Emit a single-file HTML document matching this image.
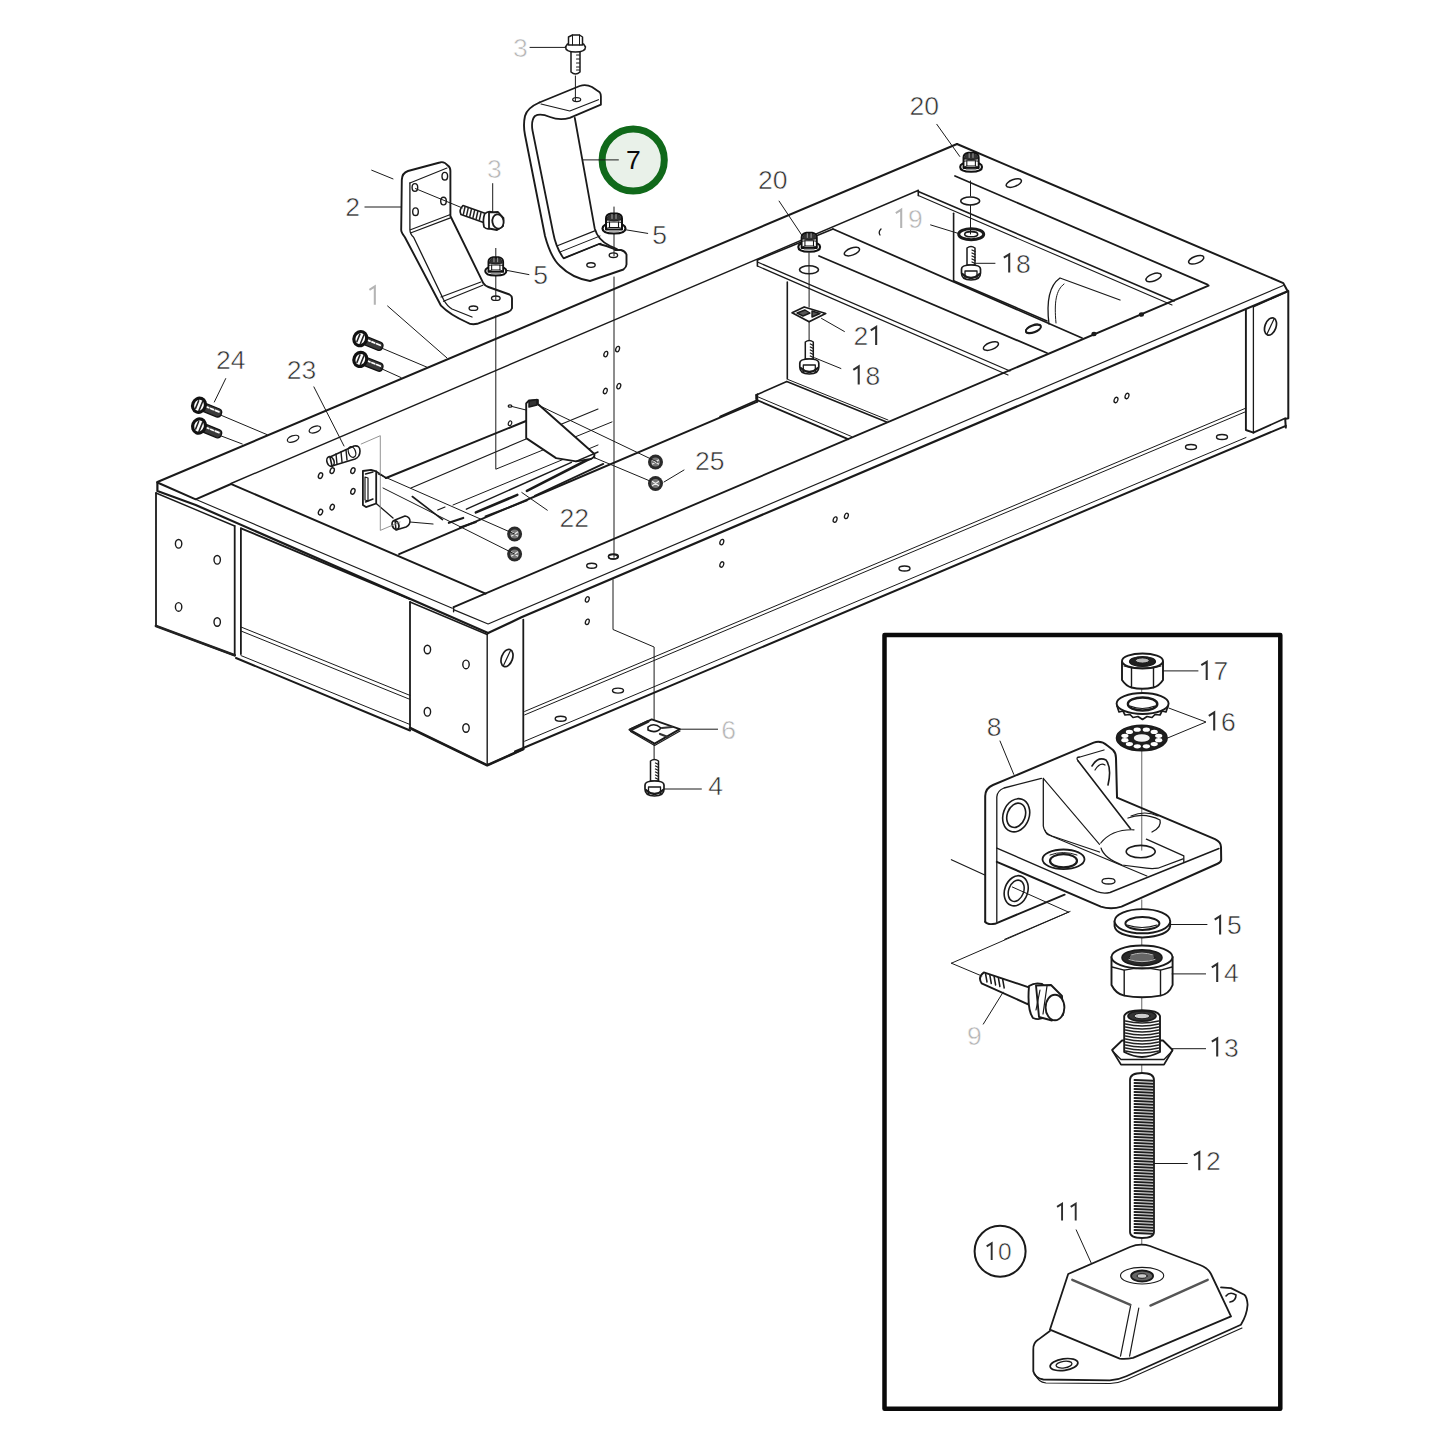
<!DOCTYPE html>
<html><head><meta charset="utf-8">
<style>
html,body{margin:0;padding:0;background:#fff;}
body{width:1445px;height:1445px;overflow:hidden;position:relative;}
svg{position:absolute;left:0;top:0;}
text{font-family:"Liberation Sans",sans-serif;}
</style></head><body>
<svg width="1445" height="1445" viewBox="0 0 1445 1445" stroke-linejoin="round" stroke-linecap="round">
<path d="M157.4,482.0 L957.0,144.0" stroke="#1a1a1a" stroke-width="2.0" fill="none" />
<path d="M231.0,483.5 L918.0,190.5" stroke="#1a1a1a" stroke-width="1.4" fill="none" />
<path d="M157.4,482.5 L157.4,491.0 L195.7,505.0 L488.1,633.1" stroke="#1a1a1a" stroke-width="2.2" fill="none" />
<path d="M157.4,482.5 L195.7,499.3 L231.0,484.0" stroke="#1a1a1a" stroke-width="2.0" fill="none" />
<path d="M195.5,499.3 L452.3,608.2" stroke="#1a1a1a" stroke-width="1.1" fill="none" />
<path d="M156.0,493.0 L156.0,626.0 L234.7,655.3 L234.7,526.0" stroke="#1a1a1a" stroke-width="1.8" fill="none" />
<path d="M156.0,493.0 L234.7,526.0" stroke="#1a1a1a" stroke-width="1.4" fill="none" />
<path d="M240.9,528.5 L240.9,654.0" stroke="#1a1a1a" stroke-width="1.8" fill="none" />
<ellipse cx="178.6" cy="543.8" rx="3.2" ry="4.3" transform="rotate(0 178.6 543.8)" stroke="#1a1a1a" stroke-width="1.4" fill="none"/>
<ellipse cx="217.2" cy="559.8" rx="3.2" ry="4.3" transform="rotate(0 217.2 559.8)" stroke="#1a1a1a" stroke-width="1.4" fill="none"/>
<ellipse cx="178.6" cy="606.9" rx="3.2" ry="4.3" transform="rotate(0 178.6 606.9)" stroke="#1a1a1a" stroke-width="1.4" fill="none"/>
<ellipse cx="217.2" cy="622" rx="3.2" ry="4.3" transform="rotate(0 217.2 622)" stroke="#1a1a1a" stroke-width="1.4" fill="none"/>
<path d="M241.0,528.3 L410.0,599.1" stroke="#1a1a1a" stroke-width="1.9" fill="none" />
<path d="M236.0,658.0 L410.0,730.5" stroke="#1a1a1a" stroke-width="2.0" fill="none" />
<path d="M241.0,627.0 L410.0,695.4" stroke="#1a1a1a" stroke-width="1.0" fill="none" />
<path d="M241.0,631.0 L410.0,699.4" stroke="#1a1a1a" stroke-width="1.0" fill="none" />
<path d="M241.0,655.6 L410.0,724.5" stroke="#1a1a1a" stroke-width="1.0" fill="none" />
<path d="M156.0,626.0 L234.7,655.3" stroke="#222" stroke-width="2.8" fill="none" />
<path d="M410.0,728.0 L487.2,765.3 L523.3,749.1" stroke="#222" stroke-width="2.6" fill="none" />
<path d="M410.0,602.0 L410.0,728.0 L487.2,765.3 L523.3,749.1 L523.3,619.6" stroke="#1a1a1a" stroke-width="1.8" fill="none" />
<path d="M410.0,602.0 L487.2,634.5" stroke="#1a1a1a" stroke-width="1.4" fill="none" />
<path d="M487.2,634.5 L487.2,765.0" stroke="#1a1a1a" stroke-width="1.4" fill="none" />
<ellipse cx="427.4" cy="649.5" rx="3.2" ry="4.3" transform="rotate(0 427.4 649.5)" stroke="#1a1a1a" stroke-width="1.4" fill="none"/>
<ellipse cx="466" cy="664.4" rx="3.2" ry="4.3" transform="rotate(0 466 664.4)" stroke="#1a1a1a" stroke-width="1.4" fill="none"/>
<ellipse cx="427.4" cy="711.8" rx="3.2" ry="4.3" transform="rotate(0 427.4 711.8)" stroke="#1a1a1a" stroke-width="1.4" fill="none"/>
<ellipse cx="466" cy="728" rx="3.2" ry="4.3" transform="rotate(0 466 728)" stroke="#1a1a1a" stroke-width="1.4" fill="none"/>
<ellipse cx="507" cy="658" rx="5.5" ry="9" transform="rotate(20 507 658)" stroke="#1a1a1a" stroke-width="1.7" fill="none"/>
<path d="M503.5,665.5 L510.5,650.5" stroke="#1a1a1a" stroke-width="1.2" fill="none" />
<path d="M488.1,633.1 L521.4,617.3 L1287.0,291.5" stroke="#1a1a1a" stroke-width="2.2" fill="none" />
<path d="M454.1,609.9 L488.1,624.0 L1283.3,285.5" stroke="#1a1a1a" stroke-width="1.2" fill="none" />
<path d="M453.6,607.1 L1208.6,285.6" stroke="#1a1a1a" stroke-width="1.9" fill="none" />
<path d="M515.0,751.5 L1285.8,425.8" stroke="#1a1a1a" stroke-width="2.0" fill="none" />
<path d="M524.7,741.2 L1246.0,437.5" stroke="#1a1a1a" stroke-width="1.0" fill="none" />
<path d="M524.7,711.4 L1245.9,408.1" stroke="#1a1a1a" stroke-width="1.0" fill="none" />
<path d="M524.7,714.9 L1245.9,411.6" stroke="#1a1a1a" stroke-width="1.0" fill="none" />
<path d="M957.0,144.0 L1283.3,283.1 L1287.0,290.0 L1288.3,291.0 L1288.3,418.3 L1285.2,419.0 L1285.8,427.6" stroke="#1a1a1a" stroke-width="2.0" fill="none" />
<path d="M1253.4,432.6 L1285.2,418.3" stroke="#1a1a1a" stroke-width="1.8" fill="none" />
<path d="M1245.9,309.9 L1245.9,430.0 L1253.4,432.6" stroke="#1a1a1a" stroke-width="1.9" fill="none" />
<path d="M1253.4,307.0 L1253.4,432.6" stroke="#1a1a1a" stroke-width="1.3" fill="none" />
<path d="M1253.4,307.0 L1287.0,292.0" stroke="#1a1a1a" stroke-width="1.2" fill="none" />
<ellipse cx="1270.5" cy="326.5" rx="5.5" ry="9" transform="rotate(20 1270.5 326.5)" stroke="#1a1a1a" stroke-width="1.7" fill="none"/>
<path d="M1267.0,334.0 L1274.0,319.0" stroke="#1a1a1a" stroke-width="1.2" fill="none" />
<ellipse cx="293.1" cy="438.8" rx="6" ry="3" transform="rotate(-20 293.1 438.8)" stroke="#1a1a1a" stroke-width="1.3" fill="none"/>
<ellipse cx="314.9" cy="429.5" rx="6" ry="3" transform="rotate(-20 314.9 429.5)" stroke="#1a1a1a" stroke-width="1.3" fill="none"/>
<path d="M757.4,260.0 L833.0,229.0" stroke="#1a1a1a" stroke-width="1.6" fill="none" />
<path d="M757.4,260.0 L757.4,266.0" stroke="#1a1a1a" stroke-width="1.6" fill="none" />
<path d="M833.0,229.0 L1082.0,338.0" stroke="#1a1a1a" stroke-width="1.8" fill="none" />
<path d="M819.0,256.0 L1047.0,353.0" stroke="#1a1a1a" stroke-width="1.8" fill="none" />
<path d="M757.4,262.0 L1010.0,371.0" stroke="#1a1a1a" stroke-width="1.2" fill="none" />
<path d="M757.4,266.0 L1008.0,375.0" stroke="#1a1a1a" stroke-width="1.2" fill="none" />
<path d="M787.3,282.0 L787.3,379.0" stroke="#1a1a1a" stroke-width="1.6" fill="none" />
<ellipse cx="851.9" cy="251.6" rx="8" ry="3.5" transform="rotate(-20 851.9 251.6)" stroke="#1a1a1a" stroke-width="1.5" fill="none"/>
<ellipse cx="1033.5" cy="328.4" rx="8" ry="3.5" transform="rotate(-20 1033.5 328.4)" stroke="#1a1a1a" stroke-width="1.5" fill="none"/>
<ellipse cx="990.9" cy="346.1" rx="8" ry="3.5" transform="rotate(-20 990.9 346.1)" stroke="#1a1a1a" stroke-width="1.5" fill="none"/>
<path d="M918.3,190.4 L918.3,195.6" stroke="#1a1a1a" stroke-width="1.6" fill="none" />
<path d="M918.3,191.4 L1174.0,301.0" stroke="#1a1a1a" stroke-width="1.6" fill="none" />
<path d="M918.3,195.6 L1172.0,305.0" stroke="#1a1a1a" stroke-width="1.1" fill="none" />
<path d="M955.0,176.0 L1207.6,284.7" stroke="#1a1a1a" stroke-width="1.8" fill="none" />
<path d="M953.6,213.2 L953.6,280.7" stroke="#1a1a1a" stroke-width="1.6" fill="none" />
<path d="M953.6,280.7 L1047.0,321.0" stroke="#1a1a1a" stroke-width="1.6" fill="none" />
<ellipse cx="1013.8" cy="183.1" rx="8" ry="3.5" transform="rotate(-20 1013.8 183.1)" stroke="#1a1a1a" stroke-width="1.5" fill="none"/>
<ellipse cx="1196.2" cy="259.8" rx="8" ry="3.5" transform="rotate(-20 1196.2 259.8)" stroke="#1a1a1a" stroke-width="1.5" fill="none"/>
<ellipse cx="1153.6" cy="277.4" rx="8" ry="3.5" transform="rotate(-20 1153.6 277.4)" stroke="#1a1a1a" stroke-width="1.5" fill="none"/>
<ellipse cx="1033.2" cy="329.3" rx="8" ry="3.5" transform="rotate(-20 1033.2 329.3)" stroke="#1a1a1a" stroke-width="1.5" fill="none"/>
<path d="M1049,324 C1046,300 1050,285 1060,278 L1120,300" stroke="#1a1a1a" stroke-width="1.3" fill="none" />
<path d="M1056,323 C1054,302 1056,290 1064,284" stroke="#1a1a1a" stroke-width="1.0" fill="none" />
<path d="M756.2,395.0 L756.2,399.0 L758.0,400.5 L848.0,439.2" stroke="#1a1a1a" stroke-width="1.9" fill="none" />
<path d="M756.2,395.0 L786.8,381.6" stroke="#1a1a1a" stroke-width="1.6" fill="none" />
<path d="M758.0,396.9 L851.5,436.5" stroke="#1a1a1a" stroke-width="1.0" fill="none" />
<path d="M786.8,381.6 L886.6,422.1" stroke="#1a1a1a" stroke-width="1.6" fill="none" />
<path d="M788.0,379.5 L888.0,420.0" stroke="#1a1a1a" stroke-width="1.0" fill="none" />
<path d="M720.0,416.5 L757.4,400.0" stroke="#1a1a1a" stroke-width="1.6" fill="none" />
<path d="M539.4,102.5 L579.7,86 Q586,84 592,87 L599.7,92.3 Q601,94 600.9,97 L600.9,104.7 L569.8,117.8 Q560,121 550,117 Q540,113 535,116 Q531,120 532.4,130 L553,232 Q556,248 563.6,258.3 L599,244 Q608,246 614,249" stroke="#1a1a1a" stroke-width="1.8" fill="none" />
<path d="M539.4,102.5 Q527,108 525,116 Q523,125 525,135 L545,236 Q551,258 560,266 Q572,278 590,281 L623.4,269.5 Q626.5,267 626.5,264.5 L626.5,254.5 Q625,251 621,250 L615,250" stroke="#1a1a1a" stroke-width="1.9" fill="none" />
<path d="M541,104 L569.8,111 L598.4,99.7" stroke="#1a1a1a" stroke-width="1.2" fill="none" />
<path d="M574.8,118 L594.7,228.4 Q598,240 609.7,245.8 L617,249" stroke="#1a1a1a" stroke-width="1.8" fill="none" />
<path d="M557.4,245.8 L594.7,230.9" stroke="#1a1a1a" stroke-width="1.2" fill="none" />
<path d="M560,252 L600,236" stroke="#1a1a1a" stroke-width="1.0" fill="none" />
<path d="M563.6,258.3 L601,243.3" stroke="#1a1a1a" stroke-width="1.2" fill="none" />
<ellipse cx="591" cy="265.1" rx="4.2" ry="2.3" transform="rotate(0 591 265.1)" stroke="#1a1a1a" stroke-width="1.4" fill="none"/>
<ellipse cx="613.4" cy="255.2" rx="4.2" ry="2.3" transform="rotate(0 613.4 255.2)" stroke="#1a1a1a" stroke-width="1.4" fill="none"/>
<ellipse cx="576.7" cy="99.6" rx="4" ry="2" transform="rotate(0 576.7 99.6)" stroke="#1a1a1a" stroke-width="1.2" fill="none"/>
<path d="M575.4,76.0 L575.4,101.0" stroke="#1a1a1a" stroke-width="1.0" fill="none" />
<path d="M614.0,207.0 L614.0,214.0" stroke="#1a1a1a" stroke-width="1.0" fill="none" />
<path d="M614.0,232.0 L614.0,255.8" stroke="#1a1a1a" stroke-width="1.0" fill="none" />
<path d="M614.0,277.0 L614.0,557.3" stroke="#1a1a1a" stroke-width="1.0" fill="none" />
<path d="M613.0,579.7 L613.0,629.5 L654.1,647.0 L654.1,724.2" stroke="#1a1a1a" stroke-width="1.0" fill="none" />
<path d="M654.1,740.0 L654.1,760.0" stroke="#1a1a1a" stroke-width="1.0" fill="none" />
<ellipse cx="613" cy="556.8" rx="4.5" ry="2.2" transform="rotate(0 613 556.8)" stroke="#1a1a1a" stroke-width="1.3" fill="none"/>
<path d="M401.8,179.9 Q402,173 408,171 L439.8,162.5 Q444,161 447.9,165.6 Q450.4,167 450.4,171 L450.4,216 L483.4,283.3 Q485,286 488.4,287 L509.5,294.5 Q512,296 512,298.2 L512,308.2 Q511,311 508,312 L477.2,323.8 Q471,325 467.2,322.5 Q450,315 441,305.7 L404.9,237.2 Q401,232 401.2,229.7 Z" stroke="#1a1a1a" stroke-width="1.9" fill="none" />
<path d="M409.9,183 L409.9,229.7 Q410,234 413.6,237.2 L443.5,299.5 Q447,306 452,309 L472,317" stroke="#1a1a1a" stroke-width="1.3" fill="none" />
<path d="M409.9,183 L447,168" stroke="#1a1a1a" stroke-width="1.1" fill="none" />
<path d="M410.5,229.7 L449.8,214.8" stroke="#1a1a1a" stroke-width="1.2" fill="none" />
<path d="M411.1,232.8 L450.4,217.9" stroke="#1a1a1a" stroke-width="1.2" fill="none" />
<path d="M441,297 L480.9,282" stroke="#1a1a1a" stroke-width="1.2" fill="none" />
<path d="M443.5,301.3 L482.8,285.2" stroke="#1a1a1a" stroke-width="1.2" fill="none" />
<ellipse cx="444.8" cy="176.2" rx="2.8" ry="3.8" transform="rotate(0 444.8 176.2)" stroke="#1a1a1a" stroke-width="1.4" fill="none"/>
<ellipse cx="414.9" cy="187.4" rx="2.8" ry="3.8" transform="rotate(0 414.9 187.4)" stroke="#1a1a1a" stroke-width="1.4" fill="none"/>
<ellipse cx="443.5" cy="201.1" rx="2.8" ry="3.8" transform="rotate(0 443.5 201.1)" stroke="#1a1a1a" stroke-width="1.4" fill="none"/>
<ellipse cx="415.5" cy="211.7" rx="2.8" ry="3.8" transform="rotate(0 415.5 211.7)" stroke="#1a1a1a" stroke-width="1.4" fill="none"/>
<ellipse cx="473.4" cy="308.2" rx="4.3" ry="2.2" transform="rotate(0 473.4 308.2)" stroke="#1a1a1a" stroke-width="1.4" fill="none"/>
<ellipse cx="495.8" cy="298.2" rx="4.3" ry="2.2" transform="rotate(0 495.8 298.2)" stroke="#1a1a1a" stroke-width="1.4" fill="none"/>
<path d="M463,205.5 L487,214 L485,223 L461,214.5 Q458.5,210 463,205.5 Z" stroke="#1a1a1a" stroke-width="1.7" fill="#fff" />
<path d="M465.0,207.0 L463.4,214.2" stroke="#222" stroke-width="1.5"/>
<path d="M468.2,208.1 L466.6,215.3" stroke="#222" stroke-width="1.5"/>
<path d="M471.4,209.3 L469.8,216.5" stroke="#222" stroke-width="1.5"/>
<path d="M474.6,210.4 L473.0,217.6" stroke="#222" stroke-width="1.5"/>
<path d="M477.8,211.5 L476.2,218.7" stroke="#222" stroke-width="1.5"/>
<path d="M481.0,212.7 L479.4,219.8" stroke="#222" stroke-width="1.5"/>
<path d="M484.6,214 Q488,210.5 492,212 L491,228 Q487,230 484,227 Q482.5,220 484.6,214 Z" stroke="#1a1a1a" stroke-width="1.7" fill="#fff" />
<path d="M489,212.3 L498,212 L503.5,218 L503,226 L497,230 L489,228.5 Z" stroke="#1a1a1a" stroke-width="1.8" fill="#fff" />
<ellipse cx="498" cy="221.5" rx="5.6" ry="7.2" transform="rotate(-10 498 221.5)" stroke="#1a1a1a" stroke-width="1.8" fill="#fff"/>
<path d="M415.5,188.6 L462.2,207.9" stroke="#1a1a1a" stroke-width="1.0" fill="none" />
<path d="M495.8,248.4 L495.8,258.0" stroke="#1a1a1a" stroke-width="1.0" fill="none" />
<path d="M495.8,276.0 L495.8,299.5" stroke="#1a1a1a" stroke-width="1.0" fill="none" />
<path d="M495.8,315.7 L495.8,469.2 L612.0,421.9" stroke="#1a1a1a" stroke-width="1.0" fill="none" />
<g transform="translate(809.2,247) scale(0.95)" stroke="#111"><path d="M-11.5,0 Q-11.5,-5 0,-5 Q11.5,-5 11.5,0 Q11.5,5 0,5 Q-11.5,5 -11.5,0 Z" fill="#fff" stroke-width="2.2"/><path d="M-8,1 L-8,-10 Q-8,-14 -3,-15 L3,-15 Q8,-14 8,-10 L8,1 Z" fill="#fff" stroke-width="2.0"/><path d="M-7,-8.5 Q-7,-13.5 -2.5,-14 L2.5,-14 Q7,-13.5 7,-8.5 Q0,-6.5 -7,-8.5 Z" fill="#333" stroke-width="0.8"/><path d="M-2,-14 L-2,-10 M2,-14 L2,-10" stroke="#aaa" stroke-width="1.0"/><path d="M-4.5,-6.5 L4.5,-6.5 L4.5,-1 L-4.5,-1 Z" fill="#fff" stroke-width="1.1"/><path d="M-8,-6 L-4.5,-6.5 M8,-6 L4.5,-6.5 M-8,0 L-4.5,-1 M8,0 L4.5,-1" stroke-width="1.0"/><path d="M-5,2.6 L5,2.6" stroke="#999" stroke-width="1.4"/></g>
<g transform="translate(971.1,167) scale(0.95)" stroke="#111"><path d="M-11.5,0 Q-11.5,-5 0,-5 Q11.5,-5 11.5,0 Q11.5,5 0,5 Q-11.5,5 -11.5,0 Z" fill="#fff" stroke-width="2.2"/><path d="M-8,1 L-8,-10 Q-8,-14 -3,-15 L3,-15 Q8,-14 8,-10 L8,1 Z" fill="#fff" stroke-width="2.0"/><path d="M-7,-8.5 Q-7,-13.5 -2.5,-14 L2.5,-14 Q7,-13.5 7,-8.5 Q0,-6.5 -7,-8.5 Z" fill="#333" stroke-width="0.8"/><path d="M-2,-14 L-2,-10 M2,-14 L2,-10" stroke="#aaa" stroke-width="1.0"/><path d="M-4.5,-6.5 L4.5,-6.5 L4.5,-1 L-4.5,-1 Z" fill="#fff" stroke-width="1.1"/><path d="M-8,-6 L-4.5,-6.5 M8,-6 L4.5,-6.5 M-8,0 L-4.5,-1 M8,0 L4.5,-1" stroke-width="1.0"/><path d="M-5,2.6 L5,2.6" stroke="#999" stroke-width="1.4"/></g>
<g transform="translate(614,228.5) scale(1.0)" stroke="#111"><path d="M-11.5,0 Q-11.5,-5 0,-5 Q11.5,-5 11.5,0 Q11.5,5 0,5 Q-11.5,5 -11.5,0 Z" fill="#fff" stroke-width="2.2"/><path d="M-8,1 L-8,-10 Q-8,-14 -3,-15 L3,-15 Q8,-14 8,-10 L8,1 Z" fill="#fff" stroke-width="2.0"/><path d="M-7,-8.5 Q-7,-13.5 -2.5,-14 L2.5,-14 Q7,-13.5 7,-8.5 Q0,-6.5 -7,-8.5 Z" fill="#333" stroke-width="0.8"/><path d="M-2,-14 L-2,-10 M2,-14 L2,-10" stroke="#aaa" stroke-width="1.0"/><path d="M-4.5,-6.5 L4.5,-6.5 L4.5,-1 L-4.5,-1 Z" fill="#fff" stroke-width="1.1"/><path d="M-8,-6 L-4.5,-6.5 M8,-6 L4.5,-6.5 M-8,0 L-4.5,-1 M8,0 L4.5,-1" stroke-width="1.0"/><path d="M-5,2.6 L5,2.6" stroke="#999" stroke-width="1.4"/></g>
<g transform="translate(495.8,271) scale(0.92)" stroke="#111"><path d="M-11.5,0 Q-11.5,-5 0,-5 Q11.5,-5 11.5,0 Q11.5,5 0,5 Q-11.5,5 -11.5,0 Z" fill="#fff" stroke-width="2.2"/><path d="M-8,1 L-8,-10 Q-8,-14 -3,-15 L3,-15 Q8,-14 8,-10 L8,1 Z" fill="#fff" stroke-width="2.0"/><path d="M-7,-8.5 Q-7,-13.5 -2.5,-14 L2.5,-14 Q7,-13.5 7,-8.5 Q0,-6.5 -7,-8.5 Z" fill="#333" stroke-width="0.8"/><path d="M-2,-14 L-2,-10 M2,-14 L2,-10" stroke="#aaa" stroke-width="1.0"/><path d="M-4.5,-6.5 L4.5,-6.5 L4.5,-1 L-4.5,-1 Z" fill="#fff" stroke-width="1.1"/><path d="M-8,-6 L-4.5,-6.5 M8,-6 L4.5,-6.5 M-8,0 L-4.5,-1 M8,0 L4.5,-1" stroke-width="1.0"/><path d="M-5,2.6 L5,2.6" stroke="#999" stroke-width="1.4"/></g>
<g transform="translate(655.5,462) scale(1.0)"><circle r="7.5" fill="#2a2a2a"/><circle r="4.6" fill="#777"/><path d="M-3,-2 L3,2 M-3,2 L3,-2" stroke="#eee" stroke-width="1.2"/></g>
<g transform="translate(655.5,483.5) scale(1.0)"><circle r="7.5" fill="#2a2a2a"/><circle r="4.6" fill="#777"/><path d="M-3,-2 L3,2 M-3,2 L3,-2" stroke="#eee" stroke-width="1.2"/></g>
<g transform="translate(514.6,534) scale(1.0)"><circle r="7.5" fill="#2a2a2a"/><circle r="4.6" fill="#777"/><path d="M-3,-2 L3,2 M-3,2 L3,-2" stroke="#eee" stroke-width="1.2"/></g>
<g transform="translate(514.6,554) scale(1.0)"><circle r="7.5" fill="#2a2a2a"/><circle r="4.6" fill="#777"/><path d="M-3,-2 L3,2 M-3,2 L3,-2" stroke="#eee" stroke-width="1.2"/></g>
<g transform="translate(575.5,35) scale(1.0)" stroke="#1a1a1a" fill="#fff" stroke-width="1.5"><path d="M-4.5,16 L-4.5,37 Q0,41 4.5,37 L4.5,16 Z"/><path d="M1,20 L4,20 M1,24 L4,24 M1,28 L4,28 M1,32 L4,32 M1,35 L4,35" stroke-width="1.1"/><path d="M-10,12 Q-10,17 0,17 Q10,17 10,12 L8,9 L-8,9 Z"/><path d="M-7,10 L-7,2 L-3,0 L4,0 L7,2 L7,10 Z"/><path d="M-3,0 L-3,10 M4,0 L4,10" stroke-width="1.0"/></g>
<g transform="translate(809.3,341) scale(1.0)" stroke="#1a1a1a" fill="#fff" stroke-width="1.5"><path d="M-4,18 L-4,1 Q0,-2 4,1 L4,18 Z"/><path d="M1,3 L4,4.5" stroke-width="1.3"/><path d="M1,6 L4,7.5" stroke-width="1.3"/><path d="M1,9 L4,10.5" stroke-width="1.3"/><path d="M1,12 L4,13.5" stroke-width="1.3"/><path d="M1,15 L4,16.5" stroke-width="1.3"/><path d="M-9.5,22 Q-9.5,18 0,18 Q9.5,18 9.5,22 L9.5,26 Q9.5,33 0,33 Q-9.5,33 -9.5,26 Z" stroke-width="1.7"/><path d="M-6,24 L6,24 L6,31 M-6,24 L-6,31" stroke-width="1.3"/><path d="M-8.5,27 Q0,35 8.5,27" stroke-width="2.2" fill="none"/></g>
<g transform="translate(971,247) scale(1.0)" stroke="#1a1a1a" fill="#fff" stroke-width="1.5"><path d="M-4,18 L-4,1 Q0,-2 4,1 L4,18 Z"/><path d="M1,3 L4,4.5" stroke-width="1.3"/><path d="M1,6 L4,7.5" stroke-width="1.3"/><path d="M1,9 L4,10.5" stroke-width="1.3"/><path d="M1,12 L4,13.5" stroke-width="1.3"/><path d="M1,15 L4,16.5" stroke-width="1.3"/><path d="M-9.5,22 Q-9.5,18 0,18 Q9.5,18 9.5,22 L9.5,26 Q9.5,33 0,33 Q-9.5,33 -9.5,26 Z" stroke-width="1.7"/><path d="M-6,24 L6,24 L6,31 M-6,24 L-6,31" stroke-width="1.3"/><path d="M-8.5,27 Q0,35 8.5,27" stroke-width="2.2" fill="none"/></g>
<g transform="translate(654.5,760) scale(1.0)" stroke="#1a1a1a" fill="#fff" stroke-width="1.5"><path d="M-4,21 L-4,1 Q0,-2 4,1 L4,21 Z"/><path d="M1,3 L4,4.5" stroke-width="1.3"/><path d="M1,6 L4,7.5" stroke-width="1.3"/><path d="M1,9 L4,10.5" stroke-width="1.3"/><path d="M1,12 L4,13.5" stroke-width="1.3"/><path d="M1,15 L4,16.5" stroke-width="1.3"/><path d="M1,18 L4,19.5" stroke-width="1.3"/><path d="M-9.5,25 Q-9.5,21 0,21 Q9.5,21 9.5,25 L9.5,29 Q9.5,36 0,36 Q-9.5,36 -9.5,29 Z" stroke-width="1.7"/><path d="M-6,27 L6,27 L6,34 M-6,27 L-6,34" stroke-width="1.3"/><path d="M-8.5,30 Q0,38 8.5,30" stroke-width="2.2" fill="none"/></g>
<g transform="translate(199,405.2) rotate(22) scale(1.0)"><path d="M4,-4.2 L20.5,-4.2 Q24,-4 24,0 Q24,4 20.5,4.2 L4,4.2 Z" fill="#3a3a3a" stroke="#111" stroke-width="1.3"/><path d="M7,-1.3 L10,-1.3 M12,-1.3 L15,-1.3 M17,-1.3 L21,-1.3" stroke="#fff" stroke-width="1.7"/><ellipse rx="6.3" ry="7.2" fill="#fff" stroke="#111" stroke-width="3.2"/><path d="M-2,-4 L-2,4 M2,-5 L2,5" stroke="#222" stroke-width="1.6"/></g>
<g transform="translate(199,426) rotate(22) scale(1.0)"><path d="M4,-4.2 L20.5,-4.2 Q24,-4 24,0 Q24,4 20.5,4.2 L4,4.2 Z" fill="#3a3a3a" stroke="#111" stroke-width="1.3"/><path d="M7,-1.3 L10,-1.3 M12,-1.3 L15,-1.3 M17,-1.3 L21,-1.3" stroke="#fff" stroke-width="1.7"/><ellipse rx="6.3" ry="7.2" fill="#fff" stroke="#111" stroke-width="3.2"/><path d="M-2,-4 L-2,4 M2,-5 L2,5" stroke="#222" stroke-width="1.6"/></g>
<g transform="translate(360.3,338.6) rotate(22) scale(1.0)"><path d="M4,-4.2 L20.5,-4.2 Q24,-4 24,0 Q24,4 20.5,4.2 L4,4.2 Z" fill="#3a3a3a" stroke="#111" stroke-width="1.3"/><path d="M7,-1.3 L10,-1.3 M12,-1.3 L15,-1.3 M17,-1.3 L21,-1.3" stroke="#fff" stroke-width="1.7"/><ellipse rx="6.3" ry="7.2" fill="#fff" stroke="#111" stroke-width="3.2"/><path d="M-2,-4 L-2,4 M2,-5 L2,5" stroke="#222" stroke-width="1.6"/></g>
<g transform="translate(360.3,359.4) rotate(22) scale(1.0)"><path d="M4,-4.2 L20.5,-4.2 Q24,-4 24,0 Q24,4 20.5,4.2 L4,4.2 Z" fill="#3a3a3a" stroke="#111" stroke-width="1.3"/><path d="M7,-1.3 L10,-1.3 M12,-1.3 L15,-1.3 M17,-1.3 L21,-1.3" stroke="#fff" stroke-width="1.7"/><ellipse rx="6.3" ry="7.2" fill="#fff" stroke="#111" stroke-width="3.2"/><path d="M-2,-4 L-2,4 M2,-5 L2,5" stroke="#222" stroke-width="1.6"/></g>
<path d="M220.5,415.0 L267.2,434.7" stroke="#1a1a1a" stroke-width="1.0" fill="none" />
<path d="M220.5,435.7 L242.3,444.0" stroke="#1a1a1a" stroke-width="1.0" fill="none" />
<path d="M380.3,347.5 L427.0,367.2" stroke="#1a1a1a" stroke-width="1.0" fill="none" />
<path d="M380.3,368.2 L401.1,377.6" stroke="#1a1a1a" stroke-width="1.0" fill="none" />
<path d="M792.1,312.8 L804.2,307 L825.7,313.5 L809.1,321.8 Z" stroke="#1a1a1a" stroke-width="1.8" fill="#fff" />
<path d="M797,313 L805,310 L810,313 L803,316 Z M812,311 L820,313.5 L812,317 Z" stroke="#1a1a1a" stroke-width="1.4" fill="#555" />
<path d="M809.1,274.0 L809.1,307.0" stroke="#1a1a1a" stroke-width="1.0" fill="none" />
<path d="M809.1,322.0 L809.1,340.0" stroke="#1a1a1a" stroke-width="1.0" fill="none" />
<path d="M629.4,729.6 L651.7,719.4 L679.8,729.1 L654.6,743.6 Z" stroke="#1a1a1a" stroke-width="1.9" fill="#fff" />
<path d="M630.5,731.5 L654.6,745.5 L680,731" stroke="#1a1a1a" stroke-width="1.2" fill="none" />
<path d="M631,729.6 L648,721.5" stroke="#222" stroke-width="3.0" fill="none" />
<path d="M648,727 Q654,722 661,728 Q656,734 648,730 Z" stroke="#1a1a1a" stroke-width="1.6" fill="#fff" />
<path d="M662,728 L672,727 M660,734 L668,737" stroke="#333" stroke-width="2.2" fill="none" />
<ellipse cx="971.2" cy="234.2" rx="12.5" ry="5.5" transform="rotate(0 971.2 234.2)" stroke="#1a1a1a" stroke-width="3.0" fill="none"/>
<ellipse cx="971.2" cy="234.2" rx="6.5" ry="2.6" transform="rotate(0 971.2 234.2)" stroke="#1a1a1a" stroke-width="1.6" fill="none"/>
<path d="M970.5,181.0 L970.5,196.0" stroke="#1a1a1a" stroke-width="1.0" fill="none" />
<path d="M970.5,205.0 L970.5,234.0" stroke="#1a1a1a" stroke-width="1.0" fill="none" />
<path d="M881,229 Q878,232 880,235" stroke="#1a1a1a" stroke-width="1.3" fill="none" />
<ellipse cx="809" cy="269.8" rx="9.5" ry="4" transform="rotate(0 809 269.8)" stroke="#1a1a1a" stroke-width="1.6" fill="none"/>
<path d="M809.0,253.0 L809.0,273.0" stroke="#1a1a1a" stroke-width="1.0" fill="none" />
<ellipse cx="970.2" cy="201" rx="9.5" ry="4" transform="rotate(0 970.2 201)" stroke="#1a1a1a" stroke-width="1.6" fill="none"/>
<text x="513.1" y="56.6" font-size="26.5" fill="#b4b4b4" stroke="#fff" stroke-width="0.55" paint-order="normal">3</text>
<path d="M530.0,47.4 L566.0,47.4" stroke="#1a1a1a" stroke-width="1.0" fill="none" />
<text x="486.9" y="177.7" font-size="26.5" fill="#b4b4b4" stroke="#fff" stroke-width="0.55" paint-order="normal">3</text>
<path d="M492.7,183.6 L492.7,212.3" stroke="#1a1a1a" stroke-width="1.0" fill="none" />
<text x="345.2" y="215.5" font-size="26.5" fill="#2e2e2e" stroke="#fff" stroke-width="0.55" paint-order="normal">2</text>
<path d="M364.9,207.0 L400.7,207.0" stroke="#1a1a1a" stroke-width="1.0" fill="none" />
<path d="M371.7,170.2 L393.0,178.9" stroke="#1a1a1a" stroke-width="1.0" fill="none" />
<text x="652.2" y="244.4" font-size="26.5" fill="#2e2e2e" stroke="#fff" stroke-width="0.55" paint-order="normal">5</text>
<path d="M624.6,229.6 L647.7,233.4" stroke="#1a1a1a" stroke-width="1.0" fill="none" />
<text x="533.3" y="284.3" font-size="26.5" fill="#2e2e2e" stroke="#fff" stroke-width="0.55" paint-order="normal">5</text>
<path d="M505.8,270.2 L528.9,274.6" stroke="#1a1a1a" stroke-width="1.0" fill="none" />
<path d="M369.41,289.86 L374.81,286.47 L374.81,304.70" stroke="#b4b4b4" stroke-width="2.07" fill="none" stroke-linejoin="miter" stroke-linecap="butt"/>
<path d="M387.6,306.0 L446.8,357.8" stroke="#1a1a1a" stroke-width="1.0" fill="none" />
<text x="216.1" y="369.1" font-size="26.5" fill="#2e2e2e" stroke="#fff" stroke-width="0.55" paint-order="normal">2</text>
<text x="230.8" y="369.1" font-size="26.5" fill="#2e2e2e" stroke="#fff" stroke-width="0.55" paint-order="normal">4</text>
<path d="M225.7,378.6 L214.3,402.0" stroke="#1a1a1a" stroke-width="1.0" fill="none" />
<text x="286.7" y="379.4" font-size="26.5" fill="#2e2e2e" stroke="#fff" stroke-width="0.55" paint-order="normal">2</text>
<text x="301.4" y="379.4" font-size="26.5" fill="#2e2e2e" stroke="#fff" stroke-width="0.55" paint-order="normal">3</text>
<path d="M313.9,386.9 L344.0,446.0" stroke="#1a1a1a" stroke-width="1.0" fill="none" />
<text x="758.0" y="189.4" font-size="26.5" fill="#2e2e2e" stroke="#fff" stroke-width="0.55" paint-order="normal">2</text>
<text x="772.7" y="189.4" font-size="26.5" fill="#2e2e2e" stroke="#fff" stroke-width="0.55" paint-order="normal">0</text>
<path d="M779.1,201.1 L801.9,235.3" stroke="#1a1a1a" stroke-width="1.0" fill="none" />
<text x="909.6" y="114.7" font-size="26.5" fill="#2e2e2e" stroke="#fff" stroke-width="0.55" paint-order="normal">2</text>
<text x="924.3" y="114.7" font-size="26.5" fill="#2e2e2e" stroke="#fff" stroke-width="0.55" paint-order="normal">0</text>
<path d="M936.8,124.3 L959.7,156.4" stroke="#1a1a1a" stroke-width="1.0" fill="none" />
<path d="M895.81,213.06 L901.21,209.67 L901.21,227.90" stroke="#b4b4b4" stroke-width="2.07" fill="none" stroke-linejoin="miter" stroke-linecap="butt"/>
<text x="908.0" y="227.9" font-size="26.5" fill="#b4b4b4" stroke="#fff" stroke-width="0.55" paint-order="normal">9</text>
<path d="M930.6,224.9 L957.6,233.2" stroke="#1a1a1a" stroke-width="1.0" fill="none" />
<path d="M1003.81,257.66 L1009.21,254.27 L1009.21,272.50" stroke="#2e2e2e" stroke-width="2.07" fill="none" stroke-linejoin="miter" stroke-linecap="butt"/>
<text x="1016.0" y="272.5" font-size="26.5" fill="#2e2e2e" stroke="#fff" stroke-width="0.55" paint-order="normal">8</text>
<path d="M976.3,263.3 L995.0,263.3" stroke="#1a1a1a" stroke-width="1.0" fill="none" />
<text x="853.5" y="345.1" font-size="26.5" fill="#2e2e2e" stroke="#fff" stroke-width="0.55" paint-order="normal">2</text>
<path d="M870.75,330.26 L876.16,326.87 L876.16,345.10" stroke="#2e2e2e" stroke-width="2.07" fill="none" stroke-linejoin="miter" stroke-linecap="butt"/>
<path d="M821.5,318.4 L844.4,331.5" stroke="#1a1a1a" stroke-width="1.0" fill="none" />
<path d="M853.31,369.76 L858.71,366.37 L858.71,384.60" stroke="#2e2e2e" stroke-width="2.07" fill="none" stroke-linejoin="miter" stroke-linecap="butt"/>
<text x="865.5" y="384.6" font-size="26.5" fill="#2e2e2e" stroke="#fff" stroke-width="0.55" paint-order="normal">8</text>
<path d="M814.6,357.8 L840.9,368.5" stroke="#1a1a1a" stroke-width="1.0" fill="none" />
<text x="695.0" y="470.2" font-size="26.5" fill="#2e2e2e" stroke="#fff" stroke-width="0.55" paint-order="normal">2</text>
<text x="709.7" y="470.2" font-size="26.5" fill="#2e2e2e" stroke="#fff" stroke-width="0.55" paint-order="normal">5</text>
<path d="M664.0,482.0 L684.0,470.0" stroke="#1a1a1a" stroke-width="1.0" fill="none" />
<text x="559.5" y="527.2" font-size="26.5" fill="#2e2e2e" stroke="#fff" stroke-width="0.55" paint-order="normal">2</text>
<text x="574.2" y="527.2" font-size="26.5" fill="#2e2e2e" stroke="#fff" stroke-width="0.55" paint-order="normal">2</text>
<path d="M521.8,492.5 L547.3,510.2" stroke="#1a1a1a" stroke-width="1.0" fill="none" />
<text x="721.3" y="739.0" font-size="26.5" fill="#b4b4b4" stroke="#fff" stroke-width="0.55" paint-order="normal">6</text>
<path d="M679.0,729.2 L717.6,729.2" stroke="#1a1a1a" stroke-width="1.0" fill="none" />
<text x="708.3" y="795.0" font-size="26.5" fill="#2e2e2e" stroke="#fff" stroke-width="0.55" paint-order="normal">4</text>
<path d="M664.0,789.0 L701.4,789.0" stroke="#1a1a1a" stroke-width="1.0" fill="none" />
<circle cx="633.2" cy="160" r="31.1" fill="#e9f1e9" stroke="#10691a" stroke-width="7"/>
<text x="626.0" y="169.1" font-size="26.5" fill="#0a0a0a">7</text>
<path d="M582.9,159.9 L618.4,159.9" stroke="#1a1a1a" stroke-width="1.0" fill="none" />
<rect x="884.5" y="635" width="395.8" height="773.8" fill="none" stroke="#0a0a0a" stroke-width="4.5"/>
<path d="M1141.7,688.0 L1141.7,697.0" stroke="#777" stroke-width="1.0" fill="none" />
<path d="M1141.7,751.0 L1141.7,850.0" stroke="#888" stroke-width="1.3" fill="none" />
<path d="M1141.7,900.0 L1141.7,1010.0" stroke="#888" stroke-width="1.3" fill="none" />
<path d="M1141.7,1065.0 L1141.7,1073.0" stroke="#888" stroke-width="1.3" fill="none" />
<path d="M1141.7,1238.0 L1141.7,1275.0" stroke="#888" stroke-width="1.3" fill="none" />
<path d="M1122,662 L1122,680 Q1126,686 1131.5,687.5 Q1142,690 1153.5,687.5 Q1159,686 1163,680 L1163,662" stroke="#1a1a1a" stroke-width="1.9" fill="#fff" />
<ellipse cx="1142.5" cy="661" rx="20.5" ry="7.5" transform="rotate(0 1142.5 661)" stroke="#1a1a1a" stroke-width="1.9" fill="#fff"/>
<ellipse cx="1142.5" cy="661.5" rx="13" ry="5" transform="rotate(0 1142.5 661.5)" stroke="#1a1a1a" stroke-width="1.2" fill="#1e1e1e"/>
<ellipse cx="1142.5" cy="660.5" rx="7" ry="2.6" transform="rotate(0 1142.5 660.5)" stroke="#1a1a1a" stroke-width="1.0" fill="#bbb"/>
<path d="M1131.5,667.5 L1131.5,687.5 M1153.5,667.5 L1153.5,687.5" stroke="#1a1a1a" stroke-width="1.4" fill="none" />
<path d="M1124,666 L1131.5,668 L1153.5,668 L1161,666" stroke="#1a1a1a" stroke-width="1.2" fill="none" />
<path d="M1201.31,665.16 L1206.71,661.77 L1206.71,680.00" stroke="#2e2e2e" stroke-width="2.07" fill="none" stroke-linejoin="miter" stroke-linecap="butt"/>
<text x="1213.5" y="680.0" font-size="26.5" fill="#2e2e2e" stroke="#fff" stroke-width="0.55" paint-order="normal">7</text>
<path d="M1163.0,670.9 L1198.0,670.9" stroke="#1a1a1a" stroke-width="1.0" fill="none" />
<path d="M1117,706 L1119,712 L1123,711 L1125,715 L1130,714.5 L1133,717.5 L1138,716.5 L1142.5,719.5 L1147,716.5 L1152,717.5 L1155,714.5 L1160,715 L1162,711 L1166,712 L1168,706" stroke="#1a1a1a" stroke-width="1.7" fill="#fff" />
<ellipse cx="1142.6" cy="703.5" rx="26" ry="10.5" transform="rotate(0 1142.6 703.5)" stroke="#1a1a1a" stroke-width="1.9" fill="#fff"/>
<ellipse cx="1142.6" cy="704" rx="14.7" ry="6.5" transform="rotate(0 1142.6 704)" stroke="#1a1a1a" stroke-width="2.4" fill="#fff"/>
<path d="M1130,706 Q1142,711 1155,706" stroke="#1a1a1a" stroke-width="1.2" fill="none" />
<ellipse cx="1141.8" cy="738" rx="25.3" ry="12.8" transform="rotate(0 1141.8 738)" stroke="#1a1a1a" stroke-width="1.6" fill="#1e1e1e"/>
<ellipse cx="1158.7" cy="740.2" rx="3.6" ry="2.1" fill="#fff"/>
<ellipse cx="1154.2" cy="744.1" rx="3.6" ry="2.1" fill="#fff"/>
<ellipse cx="1146.4" cy="746.3" rx="3.6" ry="2.1" fill="#fff"/>
<ellipse cx="1137.3" cy="746.3" rx="3.6" ry="2.1" fill="#fff"/>
<ellipse cx="1129.4" cy="744.1" rx="3.6" ry="2.1" fill="#fff"/>
<ellipse cx="1124.9" cy="740.2" rx="3.6" ry="2.1" fill="#fff"/>
<ellipse cx="1124.9" cy="735.8" rx="3.6" ry="2.1" fill="#fff"/>
<ellipse cx="1129.4" cy="731.9" rx="3.6" ry="2.1" fill="#fff"/>
<ellipse cx="1137.2" cy="729.7" rx="3.6" ry="2.1" fill="#fff"/>
<ellipse cx="1146.3" cy="729.7" rx="3.6" ry="2.1" fill="#fff"/>
<ellipse cx="1154.2" cy="731.9" rx="3.6" ry="2.1" fill="#fff"/>
<ellipse cx="1158.7" cy="735.8" rx="3.6" ry="2.1" fill="#fff"/>
<ellipse cx="1141.8" cy="738" rx="8" ry="3.8" transform="rotate(0 1141.8 738)" stroke="#1a1a1a" stroke-width="0" fill="#f4f4f4"/>
<path d="M1208.81,715.76 L1214.21,712.37 L1214.21,730.60" stroke="#2e2e2e" stroke-width="2.07" fill="none" stroke-linejoin="miter" stroke-linecap="butt"/>
<text x="1221.0" y="730.6" font-size="26.5" fill="#2e2e2e" stroke="#fff" stroke-width="0.55" paint-order="normal">6</text>
<path d="M1168.7,708.0 L1206.0,722.0 L1167.6,738.0" stroke="#1a1a1a" stroke-width="1.0" fill="none" />
<path d="M985.2,921.8 L985.2,796 Q985.5,788 993,785 L1093.7,742.6 Q1101,740 1107.3,745.5 L1113,750 Q1116,753 1116,758 L1117,796.8" stroke="#1a1a1a" stroke-width="2.0" fill="none" />
<path d="M985.2,921.8 Q987,925 994.9,923.8 L1064.6,894.7" stroke="#1a1a1a" stroke-width="2.0" fill="none" />
<path d="M996.8,921.8 L996.8,797 Q997,791 1004,788 L1041.4,778.4" stroke="#1a1a1a" stroke-width="1.3" fill="none" />
<path d="M1043.3,778.4 L1043.3,826 Q1044,833 1052,836 L1099.5,852" stroke="#1a1a1a" stroke-width="1.3" fill="none" />
<path d="M1043.3,778.4 L1099.5,844.3" stroke="#1a1a1a" stroke-width="1.1" fill="none" />
<path d="M1078.2,761 L1130.5,828.8" stroke="#1a1a1a" stroke-width="1.6" fill="none" />
<path d="M1078.2,761 Q1075,757 1080,757 L1104,750" stroke="#1a1a1a" stroke-width="1.3" fill="none" />
<path d="M1117,797.6 L1215,839.2 Q1221,842 1221,847 L1221.2,859.9 Q1221,862.5 1217,864 L1121.5,906.6 Q1111,910 1100.8,906.6 L996.8,861.8" stroke="#1a1a1a" stroke-width="2.0" fill="none" />
<path d="M1183.8,862.5 L1183.8,855.8 L1146.4,839.2" stroke="#1a1a1a" stroke-width="1.3" fill="none" />
<path d="M996.8,848.1 L1097,891.7 Q1103,894 1110,892.5 L1219,848.5" stroke="#1a1a1a" stroke-width="1.4" fill="none" />
<path d="M1044.8,830 Q1046,834.5 1050,835.5 L1146.9,876.1" stroke="#1a1a1a" stroke-width="1.1" fill="none" />
<path d="M1100.8,843 Q1112,829 1134,829.8" stroke="#1a1a1a" stroke-width="1.2" fill="none" />
<path d="M1101,848 Q1104,858 1122,865 L1146.4,868.2 Q1152,869 1157.9,868.2 L1183,858.9" stroke="#1a1a1a" stroke-width="1.2" fill="none" />
<ellipse cx="1016.2" cy="815.3" rx="13" ry="17" transform="rotate(20 1016.2 815.3)" stroke="#1a1a1a" stroke-width="1.6" fill="none"/>
<ellipse cx="1016.2" cy="815.3" rx="9" ry="12.5" transform="rotate(20 1016.2 815.3)" stroke="#1a1a1a" stroke-width="1.6" fill="none"/>
<ellipse cx="1016.2" cy="890.8" rx="11.5" ry="15.5" transform="rotate(20 1016.2 890.8)" stroke="#1a1a1a" stroke-width="1.6" fill="none"/>
<ellipse cx="1016.2" cy="890.8" rx="7.5" ry="11" transform="rotate(20 1016.2 890.8)" stroke="#1a1a1a" stroke-width="1.5" fill="none"/>
<path d="M1092,766 Q1098,756 1106,760 Q1112,768 1108,785" stroke="#1a1a1a" stroke-width="1.6" fill="none" />
<path d="M1095,770 Q1100,762 1105,765" stroke="#1a1a1a" stroke-width="1.2" fill="none" />
<ellipse cx="1063.5" cy="859.3" rx="21" ry="9.8" transform="rotate(0 1063.5 859.3)" stroke="#1a1a1a" stroke-width="1.8" fill="none"/>
<ellipse cx="1063.5" cy="860.8" rx="13.5" ry="6.6" transform="rotate(0 1063.5 860.8)" stroke="#1a1a1a" stroke-width="2.2" fill="none"/>
<path d="M1050,855 Q1063,850 1077,855" stroke="#1a1a1a" stroke-width="1.0" fill="none" />
<ellipse cx="1140.7" cy="851.6" rx="14.5" ry="6.2" transform="rotate(0 1140.7 851.6)" stroke="#1a1a1a" stroke-width="1.6" fill="none"/>
<path d="M1128,818 Q1144,812 1160,820 Q1162,827 1152,832" stroke="#1a1a1a" stroke-width="1.3" fill="none" />
<path d="M1131,816 Q1145,810 1158,816" stroke="#1a1a1a" stroke-width="1.1" fill="none" />
<ellipse cx="1108.5" cy="881.2" rx="6.5" ry="2.8" transform="rotate(0 1108.5 881.2)" stroke="#1a1a1a" stroke-width="1.3" fill="none"/>
<path d="M1114.5,921.2 L1114.5,926 Q1116,936 1142.4,937.5 Q1168.5,936 1170.2,926 L1170.2,921.2" stroke="#1a1a1a" stroke-width="1.8" fill="#fff" />
<ellipse cx="1142.4" cy="921.2" rx="27.8" ry="12.1" transform="rotate(0 1142.4 921.2)" stroke="#1a1a1a" stroke-width="1.9" fill="#fff"/>
<ellipse cx="1142.4" cy="923.5" rx="17" ry="6.4" transform="rotate(0 1142.4 923.5)" stroke="#1a1a1a" stroke-width="2.0" fill="#fff"/>
<path d="M1127,925 Q1142,930 1157,925" stroke="#1a1a1a" stroke-width="1.1" fill="none" />
<path d="M1214.71,919.56 L1220.11,916.17 L1220.11,934.40" stroke="#2e2e2e" stroke-width="2.07" fill="none" stroke-linejoin="miter" stroke-linecap="butt"/>
<text x="1226.9" y="934.4" font-size="26.5" fill="#2e2e2e" stroke="#fff" stroke-width="0.55" paint-order="normal">5</text>
<path d="M1170.6,924.5 L1207.0,924.5" stroke="#1a1a1a" stroke-width="1.0" fill="none" />
<path d="M1111.5,957 L1111.5,985 Q1116,994 1124.2,995.6 Q1142,999 1160.5,995.6 Q1169,994 1172.6,985 L1172.6,957" stroke="#1a1a1a" stroke-width="1.9" fill="#fff" />
<ellipse cx="1142" cy="957" rx="30.5" ry="11.5" transform="rotate(0 1142 957)" stroke="#1a1a1a" stroke-width="1.9" fill="#fff"/>
<ellipse cx="1142" cy="957.7" rx="20" ry="8" transform="rotate(0 1142 957.7)" stroke="#1a1a1a" stroke-width="1.6" fill="#2a2a2a"/>
<ellipse cx="1142" cy="957.5" rx="13" ry="4.6" transform="rotate(0 1142 957.5)" stroke="#1a1a1a" stroke-width="1.0" fill="#666"/>
<path d="M1131,955 Q1142,951 1153,955 M1129,959.5 Q1142,964 1155,959.5" stroke="#bbb" stroke-width="1.0" fill="none" />
<path d="M1124.2,970.2 L1124.2,995.6 M1160.5,970.2 L1160.5,995.6" stroke="#1a1a1a" stroke-width="1.4" fill="none" />
<path d="M1112,967 L1124.2,970.2 Q1142,966 1160.5,970.2 L1172,967" stroke="#1a1a1a" stroke-width="1.3" fill="none" />
<path d="M1211.81,967.26 L1217.21,963.87 L1217.21,982.10" stroke="#2e2e2e" stroke-width="2.07" fill="none" stroke-linejoin="miter" stroke-linecap="butt"/>
<text x="1224.0" y="982.1" font-size="26.5" fill="#2e2e2e" stroke="#fff" stroke-width="0.55" paint-order="normal">4</text>
<path d="M1172.1,973.9 L1205.6,973.9" stroke="#1a1a1a" stroke-width="1.0" fill="none" />
<path d="M1112.1,1050 L1122,1040.5 L1163,1040.5 L1172.6,1050 L1164,1064.6 L1121,1064.6 Z" stroke="#1a1a1a" stroke-width="1.8" fill="#fff" />
<path d="M1112.5,1051 L1121,1059.5 L1164,1059.5 L1172.2,1051" stroke="#1a1a1a" stroke-width="1.3" fill="none" />
<path d="M1124.2,1052 L1124.2,1016 Q1126,1010.2 1142,1010.2 Q1158,1010.2 1160,1016 L1160,1052 Q1150,1057 1142,1057 Q1134,1057 1124.2,1052 Z" stroke="#1a1a1a" stroke-width="1.9" fill="#fff" />
<path d="M1125.5,1021 Q1142,1025 1158.7,1021" stroke="#222" stroke-width="1.5" fill="none"/>
<path d="M1125.5,1024 Q1142,1028 1158.7,1024" stroke="#222" stroke-width="1.5" fill="none"/>
<path d="M1125.5,1027 Q1142,1031 1158.7,1027" stroke="#222" stroke-width="1.5" fill="none"/>
<path d="M1125.5,1030 Q1142,1034 1158.7,1030" stroke="#222" stroke-width="1.5" fill="none"/>
<path d="M1125.5,1033 Q1142,1037 1158.7,1033" stroke="#222" stroke-width="1.5" fill="none"/>
<path d="M1125.5,1036 Q1142,1040 1158.7,1036" stroke="#222" stroke-width="1.5" fill="none"/>
<path d="M1125.5,1039 Q1142,1043 1158.7,1039" stroke="#222" stroke-width="1.5" fill="none"/>
<path d="M1125.5,1042 Q1142,1046 1158.7,1042" stroke="#222" stroke-width="1.5" fill="none"/>
<path d="M1125.5,1045 Q1142,1049 1158.7,1045" stroke="#222" stroke-width="1.5" fill="none"/>
<path d="M1125.5,1048 Q1142,1052 1158.7,1048" stroke="#222" stroke-width="1.5" fill="none"/>
<path d="M1125.5,1051 Q1142,1055 1158.7,1051" stroke="#222" stroke-width="1.5" fill="none"/>
<ellipse cx="1142" cy="1016" rx="14" ry="5.2" transform="rotate(0 1142 1016)" stroke="#1a1a1a" stroke-width="1.7" fill="#333"/>
<ellipse cx="1142" cy="1016" rx="8" ry="2.8" transform="rotate(0 1142 1016)" stroke="#1a1a1a" stroke-width="1.0" fill="#ccc"/>
<path d="M1211.81,1041.66 L1217.21,1038.27 L1217.21,1056.50" stroke="#2e2e2e" stroke-width="2.07" fill="none" stroke-linejoin="miter" stroke-linecap="butt"/>
<text x="1224.0" y="1056.5" font-size="26.5" fill="#2e2e2e" stroke="#fff" stroke-width="0.55" paint-order="normal">3</text>
<path d="M1172.1,1048.7 L1205.6,1048.7" stroke="#1a1a1a" stroke-width="1.0" fill="none" />
<path d="M1130,1080 Q1130,1073 1142,1073 Q1154,1073 1154,1080 L1154,1232 Q1154,1238 1142,1238 Q1130,1238 1130,1232 Z" stroke="#1a1a1a" stroke-width="1.8" fill="#fff" />
<path d="M1134.5,1080 L1153,1080.8" stroke="#1e1e1e" stroke-width="1.9"/>
<path d="M1134.5,1083 L1153,1083.8" stroke="#1e1e1e" stroke-width="1.9"/>
<path d="M1134.5,1086 L1153,1086.8" stroke="#1e1e1e" stroke-width="1.9"/>
<path d="M1134.5,1089 L1153,1089.8" stroke="#1e1e1e" stroke-width="1.9"/>
<path d="M1134.5,1092 L1153,1092.8" stroke="#1e1e1e" stroke-width="1.9"/>
<path d="M1134.5,1095 L1153,1095.8" stroke="#1e1e1e" stroke-width="1.9"/>
<path d="M1134.5,1098 L1153,1098.8" stroke="#1e1e1e" stroke-width="1.9"/>
<path d="M1134.5,1101 L1153,1101.8" stroke="#1e1e1e" stroke-width="1.9"/>
<path d="M1134.5,1104 L1153,1104.8" stroke="#1e1e1e" stroke-width="1.9"/>
<path d="M1134.5,1107 L1153,1107.8" stroke="#1e1e1e" stroke-width="1.9"/>
<path d="M1134.5,1110 L1153,1110.8" stroke="#1e1e1e" stroke-width="1.9"/>
<path d="M1134.5,1113 L1153,1113.8" stroke="#1e1e1e" stroke-width="1.9"/>
<path d="M1134.5,1116 L1153,1116.8" stroke="#1e1e1e" stroke-width="1.9"/>
<path d="M1134.5,1119 L1153,1119.8" stroke="#1e1e1e" stroke-width="1.9"/>
<path d="M1134.5,1122 L1153,1122.8" stroke="#1e1e1e" stroke-width="1.9"/>
<path d="M1134.5,1125 L1153,1125.8" stroke="#1e1e1e" stroke-width="1.9"/>
<path d="M1134.5,1128 L1153,1128.8" stroke="#1e1e1e" stroke-width="1.9"/>
<path d="M1134.5,1131 L1153,1131.8" stroke="#1e1e1e" stroke-width="1.9"/>
<path d="M1134.5,1134 L1153,1134.8" stroke="#1e1e1e" stroke-width="1.9"/>
<path d="M1134.5,1137 L1153,1137.8" stroke="#1e1e1e" stroke-width="1.9"/>
<path d="M1134.5,1140 L1153,1140.8" stroke="#1e1e1e" stroke-width="1.9"/>
<path d="M1134.5,1143 L1153,1143.8" stroke="#1e1e1e" stroke-width="1.9"/>
<path d="M1134.5,1146 L1153,1146.8" stroke="#1e1e1e" stroke-width="1.9"/>
<path d="M1134.5,1149 L1153,1149.8" stroke="#1e1e1e" stroke-width="1.9"/>
<path d="M1134.5,1152 L1153,1152.8" stroke="#1e1e1e" stroke-width="1.9"/>
<path d="M1134.5,1155 L1153,1155.8" stroke="#1e1e1e" stroke-width="1.9"/>
<path d="M1134.5,1158 L1153,1158.8" stroke="#1e1e1e" stroke-width="1.9"/>
<path d="M1134.5,1161 L1153,1161.8" stroke="#1e1e1e" stroke-width="1.9"/>
<path d="M1134.5,1164 L1153,1164.8" stroke="#1e1e1e" stroke-width="1.9"/>
<path d="M1134.5,1167 L1153,1167.8" stroke="#1e1e1e" stroke-width="1.9"/>
<path d="M1134.5,1170 L1153,1170.8" stroke="#1e1e1e" stroke-width="1.9"/>
<path d="M1134.5,1173 L1153,1173.8" stroke="#1e1e1e" stroke-width="1.9"/>
<path d="M1134.5,1176 L1153,1176.8" stroke="#1e1e1e" stroke-width="1.9"/>
<path d="M1134.5,1179 L1153,1179.8" stroke="#1e1e1e" stroke-width="1.9"/>
<path d="M1134.5,1182 L1153,1182.8" stroke="#1e1e1e" stroke-width="1.9"/>
<path d="M1134.5,1185 L1153,1185.8" stroke="#1e1e1e" stroke-width="1.9"/>
<path d="M1134.5,1188 L1153,1188.8" stroke="#1e1e1e" stroke-width="1.9"/>
<path d="M1134.5,1191 L1153,1191.8" stroke="#1e1e1e" stroke-width="1.9"/>
<path d="M1134.5,1194 L1153,1194.8" stroke="#1e1e1e" stroke-width="1.9"/>
<path d="M1134.5,1197 L1153,1197.8" stroke="#1e1e1e" stroke-width="1.9"/>
<path d="M1134.5,1200 L1153,1200.8" stroke="#1e1e1e" stroke-width="1.9"/>
<path d="M1134.5,1203 L1153,1203.8" stroke="#1e1e1e" stroke-width="1.9"/>
<path d="M1134.5,1206 L1153,1206.8" stroke="#1e1e1e" stroke-width="1.9"/>
<path d="M1134.5,1209 L1153,1209.8" stroke="#1e1e1e" stroke-width="1.9"/>
<path d="M1134.5,1212 L1153,1212.8" stroke="#1e1e1e" stroke-width="1.9"/>
<path d="M1134.5,1215 L1153,1215.8" stroke="#1e1e1e" stroke-width="1.9"/>
<path d="M1134.5,1218 L1153,1218.8" stroke="#1e1e1e" stroke-width="1.9"/>
<path d="M1134.5,1221 L1153,1221.8" stroke="#1e1e1e" stroke-width="1.9"/>
<path d="M1134.5,1224 L1153,1224.8" stroke="#1e1e1e" stroke-width="1.9"/>
<path d="M1134.5,1227 L1153,1227.8" stroke="#1e1e1e" stroke-width="1.9"/>
<path d="M1134.5,1230 L1153,1230.8" stroke="#1e1e1e" stroke-width="1.9"/>
<path d="M1134.5,1233 L1153,1233.8" stroke="#1e1e1e" stroke-width="1.9"/>
<path d="M1193.91,1155.46 L1199.31,1152.07 L1199.31,1170.30" stroke="#2e2e2e" stroke-width="2.07" fill="none" stroke-linejoin="miter" stroke-linecap="butt"/>
<text x="1206.1" y="1170.3" font-size="26.5" fill="#2e2e2e" stroke="#fff" stroke-width="0.55" paint-order="normal">2</text>
<path d="M1153.9,1163.5 L1187.3,1163.5" stroke="#1a1a1a" stroke-width="1.0" fill="none" />
<circle cx="1000.1" cy="1251.2" r="25.5" fill="none" stroke="#1a1a1a" stroke-width="2"/>
<path d="M986.67,1246.38 L991.67,1243.24 L991.67,1260.10" stroke="#2e2e2e" stroke-width="1.91" fill="none" stroke-linejoin="miter" stroke-linecap="butt"/>
<text x="997.9" y="1260.1" font-size="24.5" fill="#2e2e2e" stroke="#fff" stroke-width="0.55" paint-order="normal">0</text>
<path d="M1057.07,1206.88 L1062.07,1203.74 L1062.07,1220.60" stroke="#2e2e2e" stroke-width="1.91" fill="none" stroke-linejoin="miter" stroke-linecap="butt"/>
<path d="M1070.69,1206.88 L1075.69,1203.74 L1075.69,1220.60" stroke="#2e2e2e" stroke-width="1.91" fill="none" stroke-linejoin="miter" stroke-linecap="butt"/>
<path d="M1076.2,1229.9 L1091.4,1263.4" stroke="#1a1a1a" stroke-width="1.0" fill="none" />
<path d="M1068.2,1274 L1130,1247 Q1140,1243 1150,1246 L1200,1265 Q1208,1268 1211,1274 L1231,1316.4 L1133,1357.9 Q1126,1359.5 1119.7,1358.7 L1049.9,1329.7 Z" stroke="#1a1a1a" stroke-width="1.8" fill="#fff" />
<path d="M1049.9,1331 L1038.3,1339.6 Q1033,1343 1033.3,1349.6 L1033.3,1371.2 Q1035,1378 1043.3,1379.5 L1109.7,1380.3 Q1118,1380 1126.3,1376.2 L1240.9,1324.7 Q1247,1315 1247.6,1304.8 Q1247,1297 1244.3,1294.8 L1231,1288.1 L1221,1287.3" stroke="#1a1a1a" stroke-width="1.8" fill="none" />
<path d="M1035,1374 Q1038,1382 1046,1383 L1110,1383.5 Q1119,1383 1127,1379.5 L1242,1328" stroke="#1a1a1a" stroke-width="1.1" fill="none" />
<path d="M1130.5,1306.4 L1120.5,1356.2 M1138.8,1308 L1129.6,1356.2" stroke="#1a1a1a" stroke-width="1.2" fill="none" />
<path d="M1072.3,1279.8 L1130.5,1304.8 M1150.4,1305.6 L1207.7,1279.8" stroke="#555" stroke-width="2.4" fill="none" />
<ellipse cx="1142.1" cy="1275.7" rx="21.6" ry="8.3" transform="rotate(0 1142.1 1275.7)" stroke="#1a1a1a" stroke-width="1.1" fill="none"/>
<ellipse cx="1142.1" cy="1276" rx="11" ry="5.5" transform="rotate(0 1142.1 1276)" stroke="#1a1a1a" stroke-width="1.8" fill="#666"/>
<ellipse cx="1142.1" cy="1276" rx="5" ry="2.3" transform="rotate(0 1142.1 1276)" stroke="#1a1a1a" stroke-width="1.0" fill="#ccc"/>
<ellipse cx="1064" cy="1364.6" rx="14" ry="5.8" transform="rotate(-8 1064 1364.6)" stroke="#1a1a1a" stroke-width="1.7" fill="none"/>
<ellipse cx="1064" cy="1364.6" rx="8" ry="3.3" transform="rotate(-8 1064 1364.6)" stroke="#1a1a1a" stroke-width="1.3" fill="none"/>
<path d="M1226,1296 Q1230,1291 1236,1295 Q1236,1301 1230,1302" stroke="#1a1a1a" stroke-width="1.6" fill="none" />
<path d="M983.8,972.4 L1034,989.1 L1028.1,1004.3 L981.6,983.3 Q977.5,977 983.8,972.4 Z" stroke="#1a1a1a" stroke-width="1.9" fill="#fff" />
<path d="M985.5,973.5 L987.0,982.0" stroke="#1a1a1a" stroke-width="1.5"/>
<path d="M989.8,975.0 L991.3,983.5" stroke="#1a1a1a" stroke-width="1.5"/>
<path d="M994.1,976.5 L995.6,985.0" stroke="#1a1a1a" stroke-width="1.5"/>
<path d="M998.4,978.0 L999.9,986.5" stroke="#1a1a1a" stroke-width="1.5"/>
<path d="M1002.7,979.5 L1004.2,988.0" stroke="#1a1a1a" stroke-width="1.5"/>
<path d="M1029,986 Q1035,982 1042,984 L1048,990 L1046,1016 Q1040,1021 1033,1018 Q1027,1010 1029,986 Z" stroke="#1a1a1a" stroke-width="1.9" fill="#fff" />
<path d="M1036,985.5 L1051,985 L1062,996 L1063,1015 L1052,1020.5 L1039,1017 Z" stroke="#1a1a1a" stroke-width="1.9" fill="#fff" />
<path d="M1040,990 L1036,1010 M1047,986 L1043,1014" stroke="#1a1a1a" stroke-width="1.2" fill="none" />
<ellipse cx="1055" cy="1007.5" rx="9.4" ry="12.8" transform="rotate(0 1055 1007.5)" stroke="#1a1a1a" stroke-width="1.9" fill="#fff"/>
<text x="966.9" y="1045.2" font-size="26.5" fill="#b4b4b4" stroke="#fff" stroke-width="0.55" paint-order="normal">9</text>
<path d="M983.3,1024.1 L1003.1,992.2" stroke="#1a1a1a" stroke-width="1.0" fill="none" />
<path d="M951.4,963.2 L1070.1,911.5" stroke="#1a1a1a" stroke-width="1.0" fill="none" />
<path d="M951.4,963.2 L981.8,976.0" stroke="#1a1a1a" stroke-width="1.0" fill="none" />
<path d="M951.4,859.7 L984.8,875.0" stroke="#1a1a1a" stroke-width="1.2" fill="none" />
<path d="M1012.3,887.0 L1068.5,912.1" stroke="#1a1a1a" stroke-width="1.0" fill="none" />
<path d="M1004.6,939.3 L1068.5,912.1" stroke="#1a1a1a" stroke-width="1.0" fill="none" />
<text x="986.8" y="736.2" font-size="26.5" fill="#2e2e2e" stroke="#fff" stroke-width="0.55" paint-order="normal">8</text>
<path d="M1000.0,741.0 L1013.8,774.4" stroke="#1a1a1a" stroke-width="1.0" fill="none" />
<path d="M231.9,484.4 L485.6,593.7" stroke="#1a1a1a" stroke-width="2.0" fill="none" />
<path d="M399.1,554.2 L757.4,401.7" stroke="#1a1a1a" stroke-width="1.9" fill="none" />
<path d="M453.6,607.1 L453.6,611.7" stroke="#1a1a1a" stroke-width="1.4" fill="none" />
<path d="M386.0,478.0 L526.0,421.0" stroke="#1a1a1a" stroke-width="2.0" fill="none" />
<path d="M411.0,488.0 L526.0,439.0" stroke="#1a1a1a" stroke-width="1.1" fill="none" />
<path d="M540.0,433.0 L598.0,409.0" stroke="#1a1a1a" stroke-width="1.1" fill="none" />
<path d="M757.4,401.7 L757.4,394.0" stroke="#1a1a1a" stroke-width="1.6" fill="none" />
<path d="M453.0,505.0 L598.0,445.0" stroke="#1a1a1a" stroke-width="1.0" fill="none" />
<path d="M466.4,509.2 L571.4,462.3" stroke="#1a1a1a" stroke-width="1.4" fill="none" />
<path d="M475.9,512.4 L517.3,494.9" stroke="#1a1a1a" stroke-width="2.6" fill="none" />
<path d="M526.9,490.9 L592.1,457.5" stroke="#1a1a1a" stroke-width="2.6" fill="none" />
<path d="M485.5,516.4 L526.9,500.5" stroke="#1a1a1a" stroke-width="1.8" fill="none" />
<path d="M534.8,495.7 L603.3,463.9" stroke="#1a1a1a" stroke-width="1.8" fill="none" />
<path d="M448.9,522.8 L463.2,518.0" stroke="#1a1a1a" stroke-width="2.2" fill="none" />
<path d="M460.0,527.5 L475.9,522.0" stroke="#1a1a1a" stroke-width="2.0" fill="none" />
<path d="M412.3,496.5 L442.5,519.6" stroke="#1a1a1a" stroke-width="1.6" fill="none" />
<path d="M437.7,510.0 L445.0,507.0" stroke="#1a1a1a" stroke-width="1.2" fill="none" />
<path d="M589,455.9 Q594,454 595,458" stroke="#1a1a1a" stroke-width="1.4" fill="none" />
<path d="M526.2,403.3 L526.2,438.1 L556.1,458.1 L576.1,461.4 L591,459 Q595,457 594.4,454 L537.9,404 L537.9,399.9 L529,400.5 Z" stroke="#1a1a1a" stroke-width="1.9" fill="#fff" />
<path d="M529,401 L537,399.5 L537,405 L529,407 Z" stroke="#1a1a1a" stroke-width="1.5" fill="#333" />
<path d="M576,461.4 L598,452" stroke="#1a1a1a" stroke-width="1.4" fill="none" />
<ellipse cx="510" cy="406" rx="1.8" ry="1.2" transform="rotate(0 510 406)" stroke="#1a1a1a" stroke-width="1.3" fill="none"/>
<path d="M512.0,406.5 L526.0,410.0" stroke="#1a1a1a" stroke-width="1.0" fill="none" />
<ellipse cx="510" cy="423.3" rx="1.6" ry="2.4" transform="rotate(20 510 423.3)" stroke="#1a1a1a" stroke-width="1.2" fill="none"/>
<path d="M362.9,471 L362.9,505 L366,507.1 L376.2,503.5 L376.2,471.4 L371,469.8 Z" stroke="#1a1a1a" stroke-width="1.8" fill="#fff" />
<path d="M365.5,474 L373,472 M365.5,502 L373,499" stroke="#1a1a1a" stroke-width="1.4" fill="none" />
<path d="M365,477 L365,500 L368,501 L368,478 Z" stroke="#1a1a1a" stroke-width="1.2" fill="none" />
<path d="M376.2,471.4 L386.0,478.0" stroke="#1a1a1a" stroke-width="1.6" fill="none" />
<path d="M376.2,503.5 L393.0,518.0" stroke="#1a1a1a" stroke-width="1.3" fill="none" />
<path d="M395,520 L405,516 Q410,517 410,521 Q410,525 406,527 L396,530 Z" stroke="#1a1a1a" stroke-width="1.5" fill="#fff" />
<ellipse cx="395.5" cy="525" rx="3.2" ry="4.6" transform="rotate(-20 395.5 525)" stroke="#1a1a1a" stroke-width="1.8" fill="none"/>
<path d="M410.0,522.0 L433.0,524.0" stroke="#1a1a1a" stroke-width="1.2" fill="none" />
<path d="M361.2,444.0 L380.3,435.7 L380.3,530.4 L400.0,522.0" stroke="#888" stroke-width="0.9" fill="none" />
<path d="M378.0,474.0 L514.6,534.0" stroke="#1a1a1a" stroke-width="1.0" fill="none" />
<path d="M383.0,488.0 L514.6,554.0" stroke="#1a1a1a" stroke-width="1.0" fill="none" />
<path d="M538.0,405.0 L656.6,461.7" stroke="#1a1a1a" stroke-width="1.0" fill="none" />
<path d="M594.0,457.5 L650.0,481.0" stroke="#1a1a1a" stroke-width="1.0" fill="none" />
<ellipse cx="320.5" cy="475.6" rx="2.0" ry="2.9" transform="rotate(20 320.5 475.6)" stroke="#1a1a1a" stroke-width="1.4" fill="none"/>
<ellipse cx="332.2" cy="470.6" rx="2.0" ry="2.9" transform="rotate(20 332.2 470.6)" stroke="#1a1a1a" stroke-width="1.4" fill="none"/>
<ellipse cx="352.9" cy="470.6" rx="2.0" ry="2.9" transform="rotate(20 352.9 470.6)" stroke="#1a1a1a" stroke-width="1.4" fill="none"/>
<ellipse cx="352.9" cy="491.4" rx="2.0" ry="2.9" transform="rotate(20 352.9 491.4)" stroke="#1a1a1a" stroke-width="1.4" fill="none"/>
<ellipse cx="320.5" cy="512.1" rx="2.0" ry="2.9" transform="rotate(20 320.5 512.1)" stroke="#1a1a1a" stroke-width="1.4" fill="none"/>
<ellipse cx="332.2" cy="507.1" rx="2.0" ry="2.9" transform="rotate(20 332.2 507.1)" stroke="#1a1a1a" stroke-width="1.4" fill="none"/>
<path d="M330,457 L354,446 Q360,445 360,451 Q360,457 355,459 L332,466 Z" stroke="#1a1a1a" stroke-width="1.6" fill="#fff" />
<ellipse cx="330.5" cy="461.5" rx="3.5" ry="5" transform="rotate(-20 330.5 461.5)" stroke="#1a1a1a" stroke-width="1.6" fill="none"/>
<path d="M336,454 L337,464 M341,452 L342,462 M346,450 L347,460" stroke="#1a1a1a" stroke-width="1.4" fill="none" />
<ellipse cx="352" cy="452" rx="3.5" ry="5.5" transform="rotate(-20 352 452)" stroke="#1a1a1a" stroke-width="1.3" fill="none"/>
<ellipse cx="591.7" cy="565.7" rx="5" ry="2.5" transform="rotate(0 591.7 565.7)" stroke="#1a1a1a" stroke-width="1.4" fill="none"/>
<ellipse cx="613.4" cy="556.5" rx="5" ry="2.5" transform="rotate(0 613.4 556.5)" stroke="#1a1a1a" stroke-width="1.4" fill="none"/>
<ellipse cx="587.3" cy="599.4" rx="1.8" ry="2.8" transform="rotate(20 587.3 599.4)" stroke="#1a1a1a" stroke-width="1.3" fill="none"/>
<ellipse cx="587.3" cy="621.8" rx="1.8" ry="2.8" transform="rotate(20 587.3 621.8)" stroke="#1a1a1a" stroke-width="1.3" fill="none"/>
<ellipse cx="721.8" cy="542.1" rx="1.8" ry="2.8" transform="rotate(20 721.8 542.1)" stroke="#1a1a1a" stroke-width="1.3" fill="none"/>
<ellipse cx="721.8" cy="564.5" rx="1.8" ry="2.8" transform="rotate(20 721.8 564.5)" stroke="#1a1a1a" stroke-width="1.3" fill="none"/>
<ellipse cx="835.1" cy="519.6" rx="1.8" ry="2.8" transform="rotate(20 835.1 519.6)" stroke="#1a1a1a" stroke-width="1.3" fill="none"/>
<ellipse cx="846.4" cy="515.9" rx="1.8" ry="2.8" transform="rotate(20 846.4 515.9)" stroke="#1a1a1a" stroke-width="1.3" fill="none"/>
<ellipse cx="605.3" cy="391" rx="1.8" ry="2.8" transform="rotate(20 605.3 391)" stroke="#1a1a1a" stroke-width="1.3" fill="none"/>
<ellipse cx="618.8" cy="386.2" rx="1.8" ry="2.8" transform="rotate(20 618.8 386.2)" stroke="#1a1a1a" stroke-width="1.3" fill="none"/>
<ellipse cx="605.8" cy="354.1" rx="1.8" ry="2.8" transform="rotate(20 605.8 354.1)" stroke="#1a1a1a" stroke-width="1.3" fill="none"/>
<ellipse cx="617.6" cy="349.1" rx="1.8" ry="2.8" transform="rotate(20 617.6 349.1)" stroke="#1a1a1a" stroke-width="1.3" fill="none"/>
<ellipse cx="1116" cy="400" rx="1.8" ry="2.8" transform="rotate(20 1116 400)" stroke="#1a1a1a" stroke-width="1.3" fill="none"/>
<ellipse cx="1127" cy="396" rx="1.8" ry="2.8" transform="rotate(20 1127 396)" stroke="#1a1a1a" stroke-width="1.3" fill="none"/>
<ellipse cx="560.7" cy="718.7" rx="5.5" ry="2.5" transform="rotate(0 560.7 718.7)" stroke="#1a1a1a" stroke-width="1.4" fill="none"/>
<ellipse cx="618" cy="690.6" rx="5.5" ry="2.5" transform="rotate(0 618 690.6)" stroke="#1a1a1a" stroke-width="1.4" fill="none"/>
<ellipse cx="904.5" cy="568.5" rx="5.5" ry="2.5" transform="rotate(0 904.5 568.5)" stroke="#1a1a1a" stroke-width="1.4" fill="none"/>
<ellipse cx="1191" cy="447" rx="5.5" ry="2.5" transform="rotate(0 1191 447)" stroke="#1a1a1a" stroke-width="1.4" fill="none"/>
<ellipse cx="1222" cy="437" rx="5.5" ry="2.5" transform="rotate(0 1222 437)" stroke="#1a1a1a" stroke-width="1.4" fill="none"/>
<ellipse cx="1094" cy="334" rx="1.8" ry="1.5" transform="rotate(0 1094 334)" stroke="#1a1a1a" stroke-width="1.6" fill="#222"/>
<ellipse cx="1141.5" cy="314.5" rx="1.8" ry="1.5" transform="rotate(0 1141.5 314.5)" stroke="#1a1a1a" stroke-width="1.6" fill="#222"/>
</svg>
</body></html>
